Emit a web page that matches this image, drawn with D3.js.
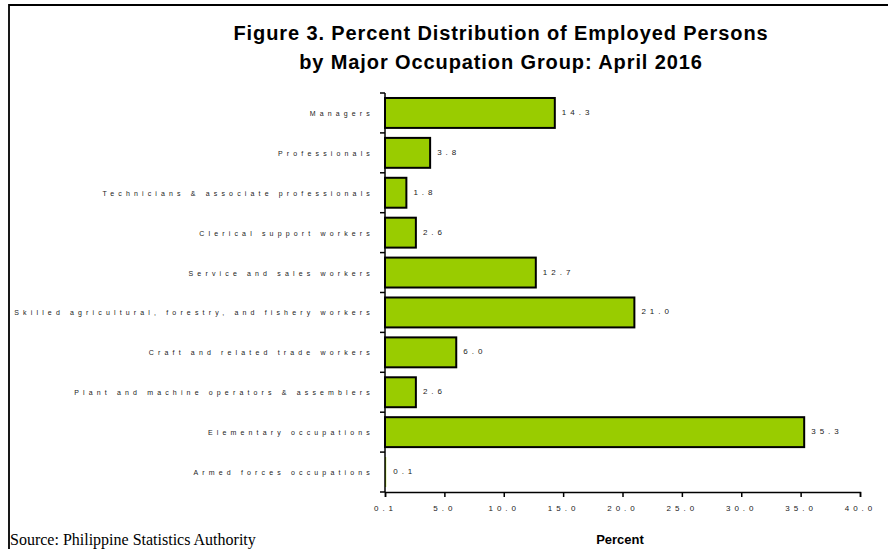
<!doctype html>
<html>
<head>
<meta charset="utf-8">
<title>Employed Persons by Occupation</title>
<style>
body{ margin:0; background:#fff; }
</style>
</head>
<body>
<svg></svg>
<script src="https://cdn.jsdelivr.net/npm/d3@7/dist/d3.min.js"></script>
<script>
var categories = ["Managers", "Professionals", "Technicians & associate professionals",
  "Clerical support workers", "Service and sales workers",
  "Skilled agricultural, forestry, and fishery workers", "Craft and related trade workers",
  "Plant and machine operators & assemblers", "Elementary occupations", "Armed forces occupations"];
var values = [14.3, 3.8, 1.8, 2.6, 12.7, 21.0, 6.0, 2.6, 35.3, 0.1];
var valueLabels = ["14.3", "3.8", "1.8", "2.6", "12.7", "21.0", "6.0", "2.6", "35.3", "0.1"];
var tickValues = [0, 5, 10, 15, 20, 25, 30, 35, 40];
var tickLabels = ["0.1", "5.0", "10.0", "15.0", "20.0", "25.0", "30.0", "35.0", "40.0"];

var width = 888, height = 549;
var svg = d3.select('svg').attr('width', width).attr('height', height);

// outer frame
svg.append('path')
   .attr('d', 'M9,549 V5 H888')
   .attr('fill', 'none').attr('stroke', '#000').attr('stroke-width', 1.8);

// title
var title = svg.append('text')
   .attr('text-anchor', 'middle')
   .style('font-family', '"Liberation Sans", Arial, sans-serif')
   .style('font-weight', 'bold')
   .style('font-size', '20px')
   .style('letter-spacing', '0.9px');
title.append('tspan').attr('x', 501).attr('y', 40).text('Figure 3. Percent Distribution of Employed Persons');
title.append('tspan').attr('x', 501).attr('y', 69).text('by Major Occupation Group: April 2016');

var x = d3.scaleLinear().domain([0, 40]).range([385, 860]);
var y = d3.scaleBand().domain(categories).range([93, 492]).paddingInner(0.25).paddingOuter(0.125);

// bars
svg.selectAll('rect.bar').data(values).enter().append('rect')
   .attr('class', 'bar')
   .attr('x', x(0))
   .attr('y', function(d, i){ return y(categories[i]); })
   .attr('width', function(d){ return x(d) - x(0); })
   .attr('height', y.bandwidth())
   .attr('fill', '#99cc00')
   .attr('stroke', '#000')
   .attr('stroke-width', function(d){ return d < 1 ? 0 : 2; });

// value labels
svg.selectAll('text.val').data(values).enter().append('text')
   .attr('class', 'val')
   .attr('x', function(d){ return x(d) + 7; })
   .attr('y', function(d, i){ return y(categories[i]) + y.bandwidth() / 2 + 2; })
   .style('font-family', '"Liberation Sans", Arial, sans-serif')
   .style('font-size', '8px')
   .style('letter-spacing', '4px')
   .attr('fill', '#222')
   .text(function(d, i){ return valueLabels[i]; });

// y axis
var step = y.step();
var yAxis = svg.append('g');
yAxis.append('line').attr('x1', x(0)).attr('x2', x(0)).attr('y1', 93).attr('y2', 492)
   .attr('stroke', '#000').attr('stroke-width', 1.5);
yAxis.selectAll('line.tk').data(d3.range(categories.length + 1)).enter().append('line')
   .attr('class', 'tk')
   .attr('x1', x(0) - 5).attr('x2', x(0))
   .attr('y1', function(i){ return 93 + i * step; })
   .attr('y2', function(i){ return 93 + i * step; })
   .attr('stroke', '#000').attr('stroke-width', 1.5);
yAxis.selectAll('text').data(categories).enter().append('text')
   .attr('x', 374)
   .attr('y', function(d){ return y(d) + y.bandwidth() / 2 + 3; })
   .attr('text-anchor', 'end')
   .style('font-family', '"Liberation Sans", Arial, sans-serif')
   .style('font-size', '7px')
   .style('letter-spacing', '4.15px')
   .attr('fill', '#222')
   .text(function(d){ return d; });

// x axis
var xAxis = svg.append('g').attr('transform', 'translate(0,492)')
   .call(d3.axisBottom(x).tickValues(tickValues).tickSize(5)
        .tickFormat(function(d, i){ return tickLabels[i]; }));
xAxis.select('.domain').attr('stroke-width', 1.5);
xAxis.selectAll('.tick line').attr('stroke-width', 1.5);
xAxis.selectAll('.tick text')
   .attr('y', 13)
   .style('font-family', '"Liberation Sans", Arial, sans-serif')
   .style('font-size', '8px')
   .style('letter-spacing', '4px')
   .attr('fill', '#222');

// axis title
svg.append('text')
   .attr('x', 620).attr('y', 544)
   .attr('text-anchor', 'middle')
   .style('font-family', '"Liberation Sans", Arial, sans-serif')
   .style('font-weight', 'bold')
   .style('font-size', '13px')
   .text('Percent');

// source
svg.append('text')
   .attr('x', 10).attr('y', 545)
   .style('font-family', '"Liberation Serif", "Times New Roman", serif')
   .style('font-size', '16px')
   .text('Source: Philippine Statistics Authority');
</script>
</body>
</html>
